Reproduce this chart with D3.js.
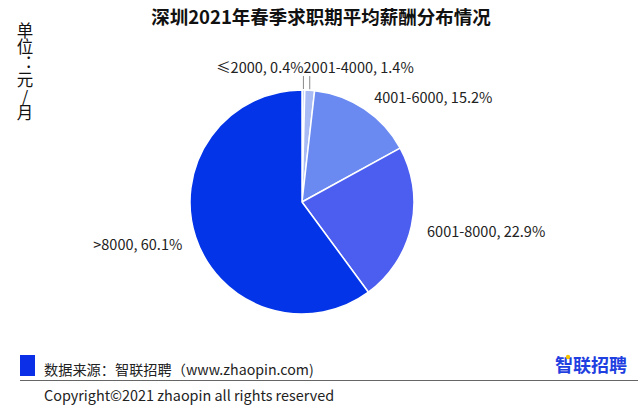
<!DOCTYPE html>
<html><head><meta charset="utf-8">
<script src="https://cdn.jsdelivr.net/npm/d3@7"></script>
<style>
html,body{margin:0;padding:0;background:#fff;}
svg{display:block;font-family:"Noto Sans CJK SC","Noto Sans",sans-serif;}
</style></head>
<body>
<svg id="chart" width="640" height="408"></svg>
<script>
const title = "深圳2021年春季求职期平均薪酬分布情况";
const unitLabel = "单位：元/月";
const categories = ["≤2000", "2001-4000", "4001-6000", "6001-8000", ">8000"];
const values = [0.4, 1.4, 15.2, 22.9, 60.1];
const colors = ["#c6d3fa", "#a8bbf5", "#6a8af1", "#4c5ef0", "#0334e7"];
const sourceText = "数据来源：智联招聘（www.zhaopin.com)";
const copyrightText = "Copyright©2021 zhaopin all rights reserved";
const logoText = "智联招聘";

const svg = d3.select("#chart");
const cx = 302, cy = 202, R = 112;

svg.append("text").attr("x", 321).attr("y", 24).attr("text-anchor", "middle")
  .attr("font-size", 18.5).attr("font-weight", "bold").attr("fill", "#111").text(title);

svg.append("text").attr("x", 25).attr("y", 22)
  .attr("font-size", 16.5).attr("fill", "#111")
  .style("writing-mode", "vertical-rl").style("text-orientation", "upright")
  .text(unitLabel);

const data = categories.map((c, i) => ({ name: c, value: values[i], color: colors[i] }));
const pie = d3.pie().value(d => d.value).sort(null).startAngle(0).endAngle(2 * Math.PI);
const arcs = pie(data);
const arc = d3.arc().innerRadius(0).outerRadius(R);

const g = svg.append("g").attr("transform", `translate(${cx},${cy})`);
g.selectAll("path").data(arcs).enter().append("path")
  .attr("d", arc).attr("fill", d => d.data.color)
  .attr("stroke", "#fff").attr("stroke-width", 1.5).attr("stroke-linejoin", "round");

const small = arcs.filter(a => a.data.value < 2);
const smallXs = small.map(a => R * Math.sin((a.startAngle + a.endAngle) / 2));
const meetX = d3.mean(smallXs) - 3;
const lineTop = -R - 14;
arcs.forEach(a => {
  const mid = (a.startAngle + a.endAngle) / 2;
  const label = `${a.data.name}, ${a.data.value}%`;
  if (a.data.value < 2) {
    const x0 = R * Math.sin(mid), y0 = -R * Math.cos(mid);
    g.append("line").attr("x1", x0).attr("y1", y0 - 1).attr("x2", x0).attr("y2", lineTop)
      .attr("stroke", "#888").attr("stroke-width", 1);
    const first = small.indexOf(a) === 0;
    g.append("text").attr("x", meetX).attr("y", lineTop - 10)
      .attr("text-anchor", first ? "end" : "start")
      .attr("dominant-baseline", "central")
      .attr("font-size", 14.5).attr("fill", "#222").text(label);
  } else {
    const rr = R + 14;
    const s = Math.sin(mid), c = Math.cos(mid);
    const x = rr * s, y = -rr * c + 6 * Math.abs(s) - 4;
    g.append("text").attr("x", x + (s > 0 ? 2 : 0)).attr("y", y)
      .attr("text-anchor", s > 0 ? "start" : "end")
      .attr("dominant-baseline", "central")
      .attr("font-size", 14.5).attr("fill", "#222").text(label);
  }
});

svg.append("rect").attr("x", 20).attr("y", 355).attr("width", 15).attr("height", 21).attr("fill", "#0a2fe6");
svg.append("text").attr("x", 44).attr("y", 375).attr("font-size", 14.2).attr("fill", "#222").text(sourceText);
svg.append("line").attr("x1", 20).attr("x2", 638).attr("y1", 380.5).attr("y2", 380.5)
  .attr("stroke", "#666").attr("stroke-width", 1.2);
svg.append("text").attr("x", 44).attr("y", 401).attr("font-size", 14.4).attr("fill", "#222").text(copyrightText);
svg.append("text").attr("x", 591).attr("y", 372).attr("text-anchor", "middle")
  .attr("font-size", 18).attr("font-weight", "bold").attr("fill", "#1f3fe0").text(logoText);
svg.append("circle").attr("cx", 568).attr("cy", 357).attr("r", 2.2).attr("fill", "#f5c400");
</script>
</body></html>
